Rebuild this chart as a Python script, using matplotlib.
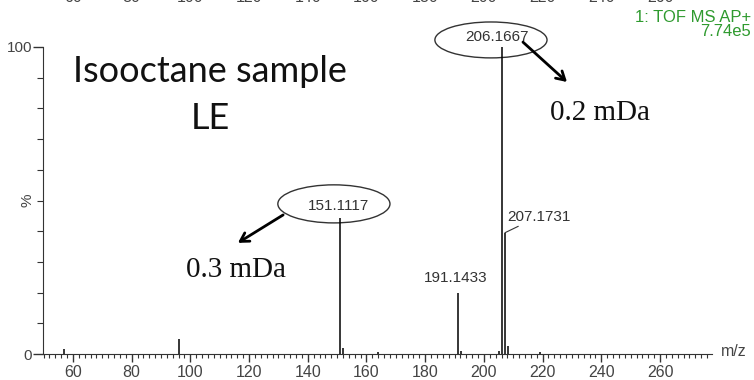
import matplotlib
matplotlib.use("Agg")
from matplotlib import pyplot as plt
from matplotlib.patches import Ellipse
from matplotlib.transforms import blended_transform_factory
import numpy as np

plt.rcParams["font.family"] = ["Liberation Sans", "DejaVu Sans"]

# peak list (m/z, relative intensity %)
mz = [57.07, 96.05, 151.1117, 152.11, 164.0, 191.1433, 192.15, 205.16, 206.1667, 207.1731, 208.18, 219.0]
intensity = [1.5, 5.0, 44.3, 2.0, 0.6, 20.0, 1.0, 1.0, 100.0, 39.5, 2.5, 0.5]

top_ticks = [60, 80, 100, 120, 140, 160, 180, 200, 220, 240, 260]

fig = plt.figure(figsize=(7.54, 3.80), dpi=100)
ax = fig.add_axes([43 / 754, 26 / 380, 669 / 754, 307 / 380])

ax.vlines(mz, 0, intensity, color="black", lw=1.1)

ax.set_xlim(49.8, 277.7)
ax.set_ylim(0, 100)
for s in ["top", "right"]:
    ax.spines[s].set_visible(False)
ax.spines["left"].set_color("#333333")
ax.spines["bottom"].set_color("#333333")

ax.set_xticks(np.arange(60, 261, 20))
ax.set_xticks(np.arange(50, 278, 2), minor=True)
ax.set_yticks([0, 100])
ax.set_yticks(np.arange(0, 101, 10), minor=True)
ax.tick_params(axis="x", which="major", length=6, width=1, colors="#333333", labelsize=11.5, pad=2)
ax.tick_params(axis="x", which="minor", length=3, width=0.8, colors="#333333")
ax.tick_params(axis="y", which="major", length=7, width=1, colors="#333333", labelsize=11, pad=1)
ax.tick_params(axis="y", which="minor", length=4, width=0.8, colors="#333333")
ax.set_yticklabels(["0", "100"])
for lab in ax.get_xticklabels() + ax.get_yticklabels():
    lab.set_color("#444444")

fig.text(28 / 754, 1 - 200 / 380, "%", rotation=90, ha="center", va="center", fontsize=11, color="#444444")
fig.text(721 / 754, 1 - 352 / 380, "m/z", ha="left", va="center", fontsize=11.5, color="#444444")

# cut-off tick labels from the chart above
tr = blended_transform_factory(ax.transData, fig.transFigure)
for t in top_ticks:
    ax.text(t, 1.0 + 2 / 380, str(t), transform=tr, ha="center", va="center", fontsize=11.5,
            color="#444444", clip_on=False)

# instrument header
fig.text(751 / 754, 1 - 17 / 380, "1: TOF MS AP+", ha="right", va="center", fontsize=12, color="#2e9a2e")
fig.text(751 / 754, 1 - 32 / 380, "7.74e5", ha="right", va="center", fontsize=12, color="#2e9a2e")

# peak labels
ax.text(204.5, 103.3, "206.1667", ha="center", va="center", fontsize=11, color="#333333", clip_on=False)
ax.add_patch(Ellipse((202.4, 102.3), 38.2, 11.7, fill=False, ec="#333333", lw=1, clip_on=False))
ax.text(150.3, 48.3, "151.1117", ha="center", va="center", fontsize=11, color="#333333")
ax.add_patch(Ellipse((148.9, 48.9), 38.2, 12.4, fill=False, ec="#333333", lw=1))
ax.text(190.5, 22.5, "191.1433", ha="center", va="bottom", fontsize=11, color="#333333")
ax.annotate("207.1731", xy=(207.17, 39.5), xytext=(207.8, 42.5), ha="left", va="bottom",
            fontsize=11, color="#333333",
            arrowprops=dict(arrowstyle="-", color="#333333", lw=0.8, shrinkA=0, shrinkB=0))

# mass error arrows
ax.annotate("", xy=(228.3, 88.6), xytext=(213.3, 101.6),
            arrowprops=dict(arrowstyle="->,head_length=0.6,head_width=0.35", color="black", lw=2,
                            shrinkA=0, shrinkB=0), annotation_clip=False)
ax.annotate("", xy=(116.2, 36.2), xytext=(131.6, 45.3),
            arrowprops=dict(arrowstyle="->,head_length=0.6,head_width=0.35", color="black", lw=2,
                            shrinkA=0, shrinkB=0))

fig.text(600 / 754, 1 - 113 / 380, "0.2 mDa", ha="center", va="center", fontsize=21,
         family="Liberation Serif", color="#111111")
fig.text(236 / 754, 1 - 270 / 380, "0.3 mDa", ha="center", va="center", fontsize=21,
         family="Liberation Serif", color="#111111")

fig.text(210 / 754, 1 - 72 / 380, "Isooctane sample", ha="center", va="center", fontsize=26,
         family="Lato", color="#111111")
fig.text(210 / 754, 1 - 118 / 380, "LE", ha="center", va="center", fontsize=26,
         family="Lato", color="#111111")

fig.savefig("out.png", dpi=100)
